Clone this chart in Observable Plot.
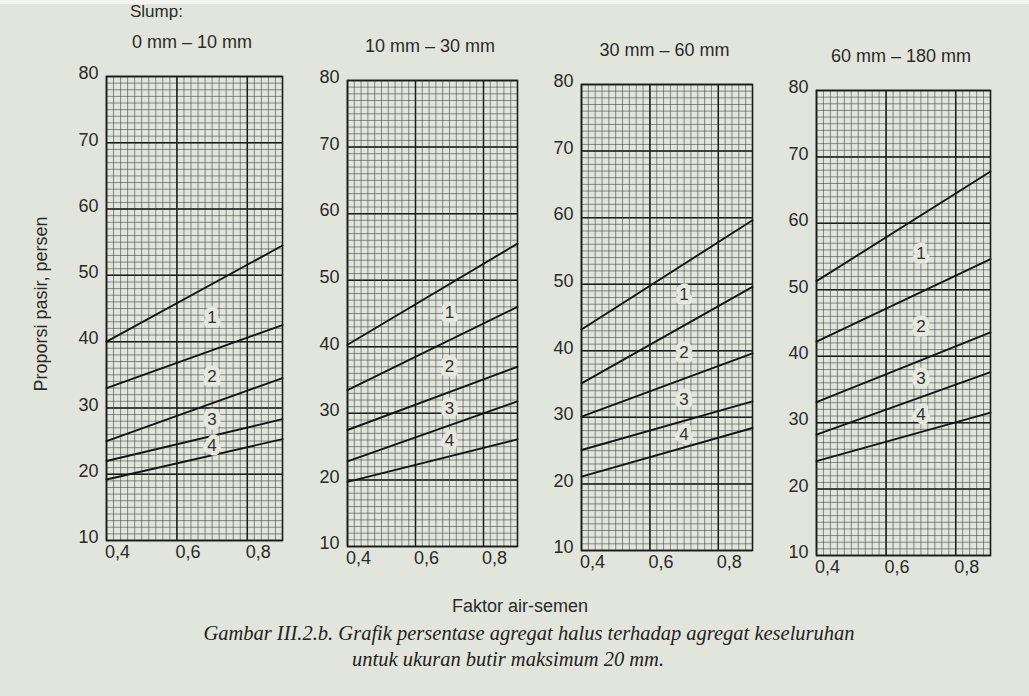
<!DOCTYPE html>
<html><head><meta charset="utf-8">
<script src="https://cdn.jsdelivr.net/npm/d3@7"></script>
<script src="https://cdn.jsdelivr.net/npm/@observablehq/plot@0.6"></script>
<style>
html,body{margin:0;padding:0;}
body{width:1029px;height:696px;position:relative;overflow:hidden;background:#e2e5dc;font-family:"Liberation Sans",Arial,sans-serif;color:#2a2a2a;}
.t{position:absolute;white-space:nowrap;line-height:1;}
.panel{position:absolute;}
.cap{font-family:"Liberation Serif","Times New Roman",serif;font-style:italic;color:#222;}
</style></head><body>
<script>
// ---------- data ----------
const slumpTitles = ["0 mm – 10 mm", "10 mm – 30 mm", "30 mm – 60 mm", "60 mm – 180 mm"];
const wcrEnds = [0.4, 0.9];                       // faktor air-semen at the two ends of each line
const zoneLabels = ["1", "2", "3", "4"];
// proporsi pasir (%) at fas = 0.4, lines top -> bottom
const sandAt04 = [
  [40.0, 33.0, 25.0, 22.0, 19.2],
  [40.3, 33.5, 27.5, 22.8, 19.7],
  [43.2, 35.1, 30.1, 25.1, 21.1],
  [51.3, 42.2, 33.1, 28.2, 24.2]
];
// proporsi pasir (%) at fas = 0.9
const sandAt09 = [
  [54.5, 42.5, 34.5, 28.3, 25.3],
  [55.5, 46.0, 37.0, 31.8, 26.1],
  [59.6, 49.6, 39.6, 32.4, 28.4],
  [67.8, 54.6, 43.6, 37.6, 31.5]
];
const xTickValues = [0.4, 0.6, 0.8];
const yTickValues = [10, 20, 30, 40, 50, 60, 70, 80];

// ---------- layout ----------
const frames = [
  {left: 106, right: 282, top: 76, bottom: 540},
  {left: 347, right: 517, top: 80, bottom: 546},
  {left: 581, right: 752, top: 84, bottom: 550},
  {left: 816, right: 990, top: 90, bottom: 555}
];
const M = {left: 42, right: 6, top: 16, bottom: 36};
const labelX = 0.7;
const xMinor = d3.range(20, 46).map(i => i / 50);
const yMinor = d3.range(10, 81);
const fmtX = d => d.toFixed(1).replace(".", ",");

function addText(txt, x, baseline, size, opts = {}) {
  const d = document.createElement("div");
  d.className = "t" + (opts.cls ? " " + opts.cls : "");
  d.textContent = txt;
  d.style.fontSize = size + "px";
  d.style.left = x + "px";
  d.style.top = (baseline - 0.86 * size) + "px";
  d.style.transform = opts.anchor === "start" ? "none" : "translateX(-50%)";
  document.body.appendChild(d);
  return d;
}

frames.forEach((f, i) => {
  const rows = [];
  sandAt04[i].forEach((v, k) => {
    rows.push({line: k, fas: wcrEnds[0], pasir: v});
    rows.push({line: k, fas: wcrEnds[1], pasir: sandAt09[i][k]});
  });
  const at = (k, x) => sandAt04[i][k] + (sandAt09[i][k] - sandAt04[i][k]) * (x - wcrEnds[0]) / (wcrEnds[1] - wcrEnds[0]);
  const labels = zoneLabels.map((t, k) => ({text: t, fas: labelX, pasir: (at(k, labelX) + at(k + 1, labelX)) / 2}));

  const w = f.right - f.left, h = f.bottom - f.top;
  const chart = Plot.plot({
    width: w + M.left + M.right,
    height: h + M.top + M.bottom,
    marginLeft: M.left, marginRight: M.right, marginTop: M.top, marginBottom: M.bottom,
    style: {background: "transparent", fontFamily: "'Liberation Sans', Arial, sans-serif", color: "#2a2a2a", overflow: "visible"},
    x: {domain: [0.4, 0.9], axis: null},
    y: {domain: [10, 80], axis: null},
    marks: [
      Plot.ruleX(xMinor, {stroke: "#3c3c3c", strokeWidth: 0.75, strokeOpacity: 0.75}),
      Plot.ruleY(yMinor, {stroke: "#3c3c3c", strokeWidth: 0.75, strokeOpacity: 0.75}),
      Plot.ruleX(xTickValues, {stroke: "#1c1c1c", strokeWidth: 1.5}),
      Plot.ruleY(yTickValues, {stroke: "#1c1c1c", strokeWidth: 1.5}),
      Plot.frame({stroke: "#1c1c1c", strokeWidth: 1.6}),
      Plot.line(rows, {x: "fas", y: "pasir", z: "line", stroke: "#151515", strokeWidth: 1.9}),
      Plot.text(labels, {x: "fas", y: "pasir", text: "text", fontSize: 17, fill: "#333", stroke: "#e6e8e0", strokeWidth: 9}),
      Plot.text(xTickValues, {x: d => d, frameAnchor: "bottom", dy: 17, dx: 11, text: fmtX, fontSize: 18, fill: "#2a2a2a"}),
      Plot.text(yTickValues, {y: d => d, frameAnchor: "left", textAnchor: "end", dx: -8, dy: -3, text: d => String(d), fontSize: 18, fill: "#2a2a2a"})
    ]
  });
  const wrap = document.createElement("div");
  wrap.className = "panel";
  wrap.style.left = (f.left - M.left) + "px";
  wrap.style.top = (f.top - M.top) + "px";
  wrap.appendChild(chart);
  document.body.appendChild(wrap);

  addText(slumpTitles[i], (f.left + f.right) / 2 - 2, f.top - 28, 18);
});

// white strip at the top of the scan
const strip = document.createElement("div");
strip.style.cssText = "position:absolute;left:0;top:0;width:1029px;height:4px;background:#f3f4ef;z-index:2;";
document.body.appendChild(strip);

addText("Slump:", 130, 18, 17, {anchor: "start"});

// y-axis title
const yl = document.createElement("div");
yl.className = "t";
yl.textContent = "Proporsi pasir, persen";
yl.style.fontSize = "18px";
yl.style.left = "41px";
yl.style.top = "304px";
yl.style.transform = "translate(-50%,-50%) rotate(-90deg)";
document.body.appendChild(yl);

addText("Faktor air-semen", 520, 612, 18);
addText("Gambar III.2.b. Grafik persentase agregat halus terhadap agregat keseluruhan", 529, 641, 20.5, {cls: "cap"});
addText("untuk ukuran butir maksimum 20 mm.", 508, 667, 20.5, {cls: "cap"});
</script>
</body></html>
